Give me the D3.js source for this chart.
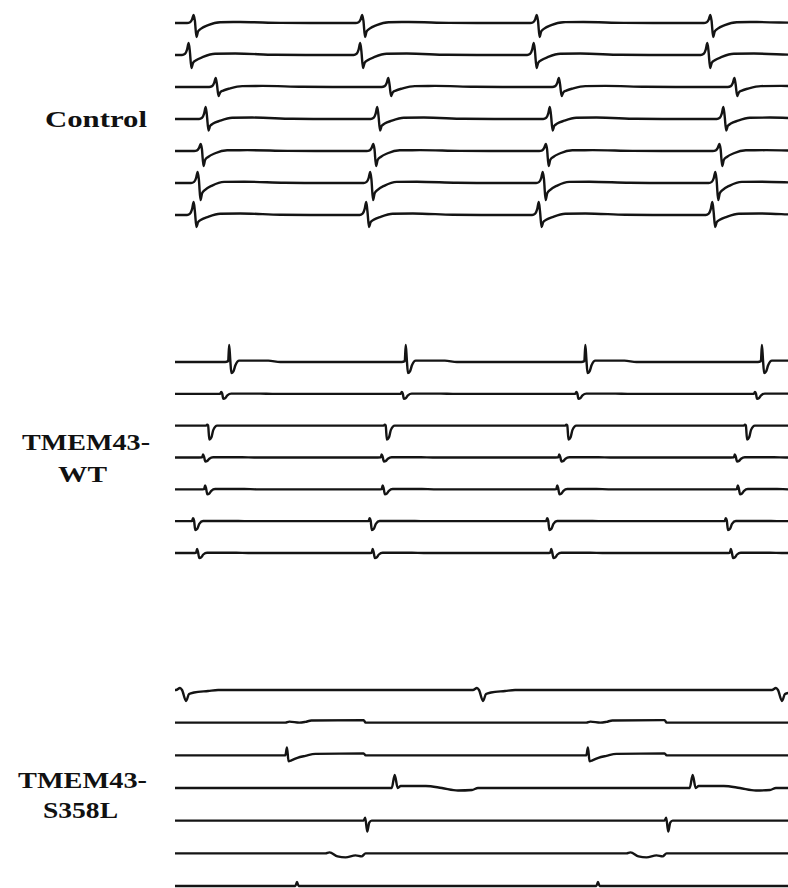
<!DOCTYPE html>
<html>
<head>
<meta charset="utf-8">
<script src="https://cdn.jsdelivr.net/npm/d3@7"></script>
<style>
  html, body { margin: 0; padding: 0; background: #fff; }
  svg { display: block; }
</style>
</head>
<body>
<svg id="svg" width="788" height="888"></svg>
<script>
// time in ms, amplitudes in µV (1 px ~ 10 µV)
var timeDomain = [0, 3055];

// Control: 7 electrodes, regular beating
var controlSpikes = [
  [75, 915, 1785, 2650],
  [50, 905, 1770, 2635],
  [185, 1045, 1895, 2770],
  [135, 990, 1850, 2715],
  [110, 970, 1830, 2695],
  [95, 955, 1815, 2675],
  [75, 935, 1795, 2660]
];
var controlUp = [80, 120, 90, 120, 70, 110, 130];
var controlDown = [140, 130, 90, 115, 150, 170, 120];
// normalised field potential shape [dt, v]; v>0 scaled by up, v<0 by down
var controlShape = [[-15, 0], [0, 0.1], [10, 0.45], [18, 1], [24, 0.3], [32, -1], [40, -0.6],
  [55, -0.4], [90, -0.15], [150, 0.1], [250, 0.12], [450, 0.02], [600, 0]];

// TMEM43-WT
var wtSpikes = [
  [265, 1145, 2040, 2920],
  [225, 1125, 1995, 2885],
  [155, 1040, 1945, 2835],
  [135, 1025, 1910, 2785],
  [145, 1030, 1900, 2800],
  [85, 965, 1850, 2740],
  [105, 980, 1870, 2765]
];
var wtUp = [170, 20, 10, 30, 40, 30, 40];
var wtDown = [110, 50, 140, 40, 50, 90, 50];
var wtShape = [[-15, 0], [0, 0.05], [5, 1], [10, 0.2], [16, -1], [26, -0.85], [36, -0.3],
  [55, 0.08], [200, 0.08], [260, 0]];

// TMEM43-S358L: irregular, each electrode with its own waveform
var s358lSpikes = [
  [15, 1495, 2985],
  [950, 2450],
  [550, 2050],
  [1080, 2565],
  [940, 2440],
  [750, 2250],
  [600, 2100]
];
var s358lShapes = [
  [[-10, 0], [10, 20], [20, 0], [40, -110], [55, -40], [80, -25], [150, -10], [200, 0]],
  [[-400, 0], [-380, 10], [-330, 0], [-300, 8], [-270, 22], [-10, 25], [0, 0]],
  [[-10, 0], [0, 0], [8, 80], [16, -60], [30, -50], [60, -25], [100, -5], [150, 15], [390, 20], [400, 0]],
  [[-10, 0], [0, 0], [15, 130], [30, 0], [45, 20], [170, 20], [250, 0], [330, -25], [400, -20], [430, 0]],
  [[-10, 0], [0, 0], [8, 30], [18, -110], [28, -20], [40, 0]],
  [[0, 0], [20, 10], [60, -30], [100, -40], [150, -20], [180, -30], [200, 0]],
  [[-10, 0], [0, 0], [8, 40], [16, 0]]
];

var groupLabels = [["Control"], ["TMEM43-", "WT"], ["TMEM43-", "S358L"]];

var svg = d3.select("#svg");
var x = d3.scaleLinear().domain(timeDomain).range([175, 788]);
var amp = d3.scaleLinear().domain([-160, 160]).range([16, -16]);

var groups = [
  {spikes: controlSpikes, rows: d3.scaleLinear().domain([0, 6]).range([23, 215]),
   shape: function(i) { return scaleShape(controlShape, controlUp[i], controlDown[i]); }},
  {spikes: wtSpikes, rows: d3.scaleLinear().domain([0, 6]).range([362, 553]),
   shape: function(i) { return scaleShape(wtShape, wtUp[i], wtDown[i]); }},
  {spikes: s358lSpikes, rows: d3.scaleLinear().domain([0, 6]).range([690, 886]),
   shape: function(i) { return s358lShapes[i]; }}
];

function scaleShape(shape, up, down) {
  return shape.map(function(p) { return [p[0], p[1] > 0 ? p[1] * up : p[1] * down]; });
}

function tracePoints(events, shape) {
  var pts = [[0, 0]];
  events.forEach(function(t0) {
    shape.forEach(function(p) {
      if (t0 + p[0] > 0) pts.push([t0 + p[0], p[1]]);
    });
  });
  pts.push([timeDomain[1] + 400, 0]);
  pts.sort(function(a, b) { return a[0] - b[0]; });
  return pts;
}

var line = d3.line()
  .x(function(d) { return x(d[0]); })
  .y(function(d) { return amp(d[1]); })
  .curve(d3.curveMonotoneX);

var core = svg.append("g").classed("core", true);
groups.forEach(function(g) {
  g.spikes.forEach(function(events, i) {
    core.append("path")
      .attr("transform", "translate(0," + g.rows(i) + ")")
      .attr("d", line(tracePoints(events, g.shape(i))))
      .attr("fill", "none")
      .attr("stroke", "#141414")
      .attr("stroke-width", 2.4)
      .attr("stroke-linejoin", "round");
  });
});

// row labels (measured extents of each text line)
var labelPos = [
  [[45, 147, 127]],
  [[22, 150, 450], [58, 107, 482]],
  [[18, 147, 788], [43, 118, 818]]
];
groupLabels.forEach(function(lines, gi) {
  lines.forEach(function(txt, li) {
    var p = labelPos[gi][li];
    svg.append("text")
      .attr("x", p[0])
      .attr("y", p[2])
      .attr("textLength", p[1] - p[0])
      .attr("lengthAdjust", "spacingAndGlyphs")
      .attr("font-family", "'Liberation Serif', 'DejaVu Serif', serif")
      .attr("font-weight", "bold")
      .attr("font-size", 24)
      .attr("fill", "#111")
      .text(txt);
  });
});
</script>
</body>
</html>
